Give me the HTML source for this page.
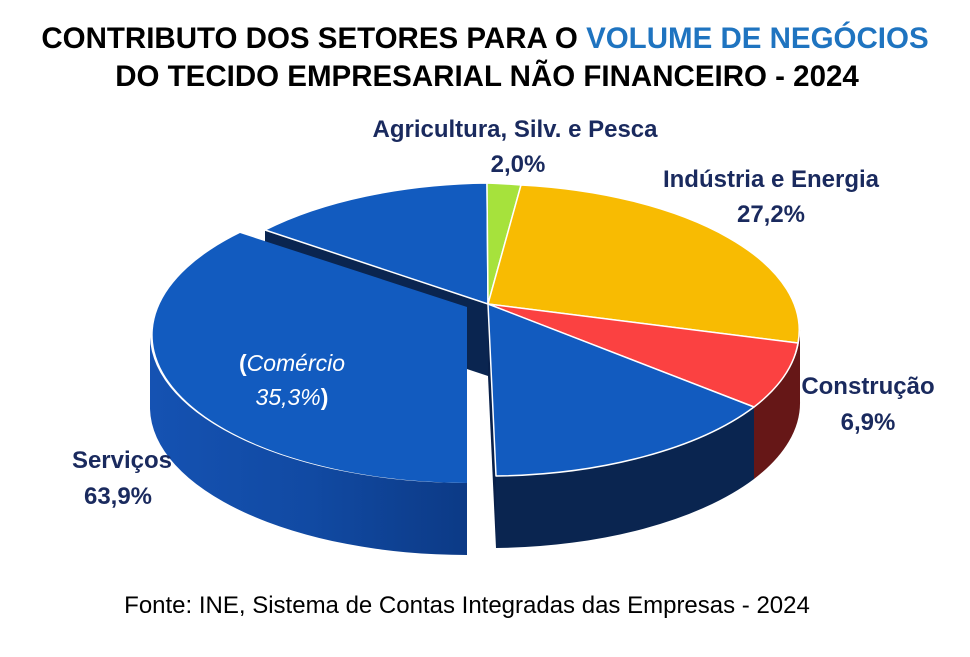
<!DOCTYPE html>
<html><head><meta charset="utf-8"><style>
html,body{margin:0;padding:0;background:#fff;}
svg{display:block;}
text{font-family:"Liberation Sans",sans-serif;}
</style></head><body>
<svg width="970" height="657" viewBox="0 0 970 657" xmlns="http://www.w3.org/2000/svg">
<defs>
<linearGradient id="gs" x1="0" x2="1" y1="0" y2="0">
<stop offset="0" stop-color="#1552b2"/><stop offset="0.5" stop-color="#114aa3"/><stop offset="1" stop-color="#0c3a86"/>
</linearGradient>
</defs>
<text x="485" y="48" text-anchor="middle" font-size="29.5" font-weight="bold" fill="#000">CONTRIBUTO DOS SETORES PARA O <tspan fill="#1f74c0">VOLUME DE NEGÓCIOS</tspan></text>
<text x="487" y="86" text-anchor="middle" font-size="29.5" font-weight="bold" fill="#000">DO TECIDO EMPRESARIAL NÃO FINANCEIRO - 2024</text>

<path d="M800,329 A313 146 0 0 1 754,407 L754,479 A313 146 0 0 0 800,401 Z" fill="#661717"/>
<path d="M754,407 A313 146 0 0 1 496,476 L496,548 A313 146 0 0 0 754,479 Z" fill="#0a2550"/>
<path d="M488,304 L496,476 L496,548 L488,376 Z" fill="#08204a"/>
<path d="M265,230 L488,304 L488,376 L265,302 Z" fill="#0a2550"/>

<g stroke="#fff" stroke-width="1.5" stroke-linejoin="round">
<path d="M488,304 L265,230 A313 146 0 0 1 487,183 Z" fill="#125bbf"/>
<path d="M488,304 L487,183 A313 146 0 0 1 521,185 Z" fill="#a6e23c"/>
<path d="M488,304 L521,185 A313 146 0 0 1 798,343 Z" fill="#f8bb02"/>
<path d="M488,304 L798,343 A313 146 0 0 1 754,407 Z" fill="#fb4141"/>
<path d="M488,304 L754,407 A313 146 0 0 1 496,476 Z" fill="#125bbf"/>
</g>

<path d="M150,337 A317 148 0 0 0 467,483 L467,555 A317 148 0 0 1 150,409 Z" fill="url(#gs)"/>
<path d="M467,307 L240,233 A317 148 0 0 0 467,483 Z" fill="#125bbf"/>

<text x="515" y="137" text-anchor="middle" font-size="24" font-weight="bold" fill="#1a2a5e">Agricultura, Silv. e Pesca</text>
<text x="518" y="172" text-anchor="middle" font-size="24" font-weight="bold" fill="#1a2a5e">2,0%</text>
<text x="771" y="187" text-anchor="middle" font-size="24" font-weight="bold" fill="#1a2a5e">Indústria e Energia</text>
<text x="771" y="222" text-anchor="middle" font-size="24" font-weight="bold" fill="#1a2a5e">27,2%</text>
<text x="868" y="394" text-anchor="middle" font-size="24" font-weight="bold" fill="#1a2a5e">Construção</text>
<text x="868" y="430" text-anchor="middle" font-size="24" font-weight="bold" fill="#1a2a5e">6,9%</text>
<text x="122" y="468" text-anchor="middle" font-size="24" font-weight="bold" fill="#1a2a5e">Serviços</text>
<text x="118" y="504" text-anchor="middle" font-size="24" font-weight="bold" fill="#1a2a5e">63,9%</text>
<text x="292" y="371" text-anchor="middle" font-size="23" fill="#fff"><tspan font-weight="bold">(</tspan><tspan font-style="italic">Comércio</tspan></text>
<text x="292" y="405" text-anchor="middle" font-size="23" fill="#fff"><tspan font-style="italic">35,3%</tspan><tspan font-weight="bold">)</tspan></text>

<text x="467" y="613" text-anchor="middle" font-size="24" fill="#000">Fonte: INE, Sistema de Contas Integradas das Empresas - 2024</text>
</svg>
</body></html>
